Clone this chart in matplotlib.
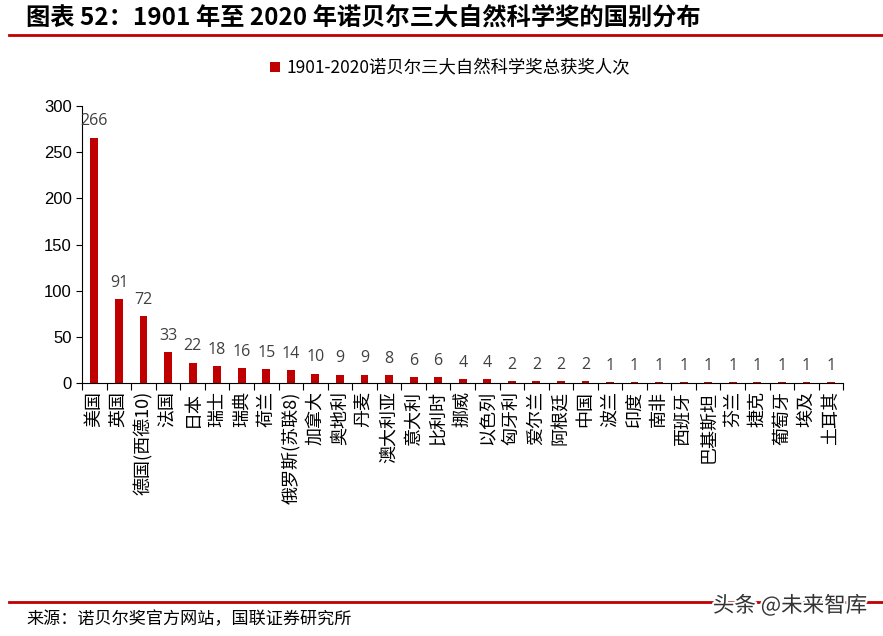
import matplotlib
matplotlib.use("Agg")
import matplotlib.pyplot as plt
import matplotlib.patheffects as pe
import numpy as np

plt.rcParams['font.family'] = ['Noto Sans CJK SC', 'DejaVu Sans']

countries = ["美国", "英国", "德国(西德10)", "法国", "日本", "瑞士", "瑞典", "荷兰",
             "俄罗斯(苏联8)", "加拿大", "奥地利", "丹麦", "澳大利亚", "意大利", "比利时",
             "挪威", "以色列", "匈牙利", "爱尔兰", "阿根廷", "中国", "波兰", "印度", "南非",
             "西班牙", "巴基斯坦", "芬兰", "捷克", "葡萄牙", "埃及", "土耳其"]
awards = [266, 91, 72, 33, 22, 18, 16, 15, 14, 10, 9, 9, 8, 6, 6,
          4, 4, 2, 2, 2, 2, 1, 1, 1, 1, 1, 1, 1, 1, 1, 1]
series_name = "1901-2020诺贝尔三大自然科学奖总获奖人次"

red = "#C00000"

fig = plt.figure(figsize=(8.83, 6.36), dpi=100)
ax = fig.add_axes([0.093, 0.398, 0.862, 0.435])

x = np.arange(len(countries))
bars = ax.bar(x, awards, width=0.32, color=red, label=series_name)

for xi, v in zip(x, awards):
    ax.annotate(str(v), (xi, v), xytext=(0, 6), textcoords="offset points",
                ha="center", va="bottom", fontsize=11.5, color="#404040",
                family=["Open Sans", "DejaVu Sans"])

ax.set_xlim(-0.5, len(countries) - 0.5)
ax.set_ylim(0, 300)
ax.set_yticks([0, 50, 100, 150, 200, 250, 300])
ax.tick_params(axis="y", labelsize=12, length=4, direction="out")
for lbl in ax.get_yticklabels():
    lbl.set_family(["Liberation Sans", "DejaVu Sans"])

# category boundary ticks, labels at bar centres
ax.set_xticks(np.arange(len(countries) + 1) - 0.5)
ax.set_xticklabels([])
ax.set_xticks(x, minor=True)
ax.set_xticklabels(countries, minor=True, rotation=90, fontsize=13,
                   va="top", ha="center")
ax.tick_params(axis="x", which="major", length=5, direction="out")
ax.tick_params(axis="x", which="minor", length=0, pad=6)

ax.spines["top"].set_visible(False)
ax.spines["right"].set_visible(False)

ax.legend(loc="center", bbox_to_anchor=(0.51, 1 - 68 / 636),
          bbox_transform=fig.transFigure, frameon=False, fontsize=12.5,
          handlelength=0.55, handleheight=0.55, handletextpad=0.4)

# title, rules, source
fig.text(0.03, 1 - 18 / 636, "图表 52：1901 年至 2020 年诺贝尔三大自然科学奖的国别分布",
         fontsize=17.5, fontweight="bold", style="italic", va="center", ha="left")
fig.add_artist(plt.Line2D([0.01, 1.0], [1 - 35 / 636] * 2, color=red, lw=2))
fig.add_artist(plt.Line2D([0.01, 1.0], [1 - 602 / 636] * 2, color=red, lw=2))
fig.text(0.03, 1 - 619 / 636, "来源：诺贝尔奖官方网站，国联证券研究所",
         fontsize=12.3, va="center", ha="left")
fig.text(0.982, 1 - 606 / 636, "头条 @未来智库", fontsize=15.5, color="#333333",
         va="center", ha="right",
         path_effects=[pe.withStroke(linewidth=3, foreground="white")])

fig.savefig("out.png", dpi=100)
